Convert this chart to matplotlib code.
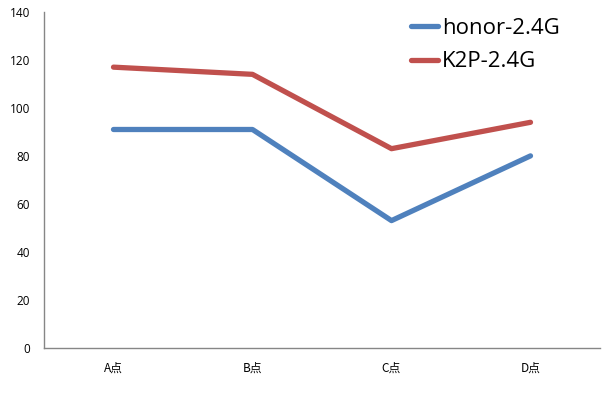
import matplotlib.pyplot as plt

plt.rcParams['font.family'] = ['Open Sans', 'Noto Sans CJK SC', 'DejaVu Sans']

categories = ['A点', 'B点', 'C点', 'D点']
honor = [91, 91, 53, 80]
k2p = [117, 114, 83, 94]
y_ticks = [0, 20, 40, 60, 80, 100, 120, 140]

fig = plt.figure(figsize=(6.11, 3.99), dpi=100)
ax = fig.add_axes([44 / 611, 1 - 347.7 / 399, 556 / 611, 335.7 / 399])

x = range(len(categories))
ax.plot(x, honor, color='#4F81BD', lw=3.8, solid_capstyle='round', label='honor-2.4G')
ax.plot(x, k2p, color='#C0504D', lw=3.8, solid_capstyle='round', label='K2P-2.4G')

ax.set_xlim(-0.5, len(categories) - 0.5)
ax.set_ylim(0, 140)
ax.set_yticks(y_ticks)
ax.set_xticks(list(x))
ax.set_xticklabels(categories, family=['Noto Sans CJK SC', 'DejaVu Sans'])
ax.tick_params(length=0, labelsize=8.5, colors='black', pad=10)
ax.tick_params(axis='y', pad=10)

for side in ['top', 'right']:
    ax.spines[side].set_visible(False)
for side in ['left', 'bottom']:
    ax.spines[side].set_color('#868686')
    ax.spines[side].set_linewidth(1.0)

leg = ax.legend(loc='upper left', bbox_to_anchor=(400 / 611, 1 - 7 / 399),
                bbox_transform=fig.transFigure, frameon=False, fontsize=16,
                handlelength=1.2, handletextpad=0.2, labelspacing=0.55,
                borderpad=0)

fig.savefig('out.png', dpi=100)
